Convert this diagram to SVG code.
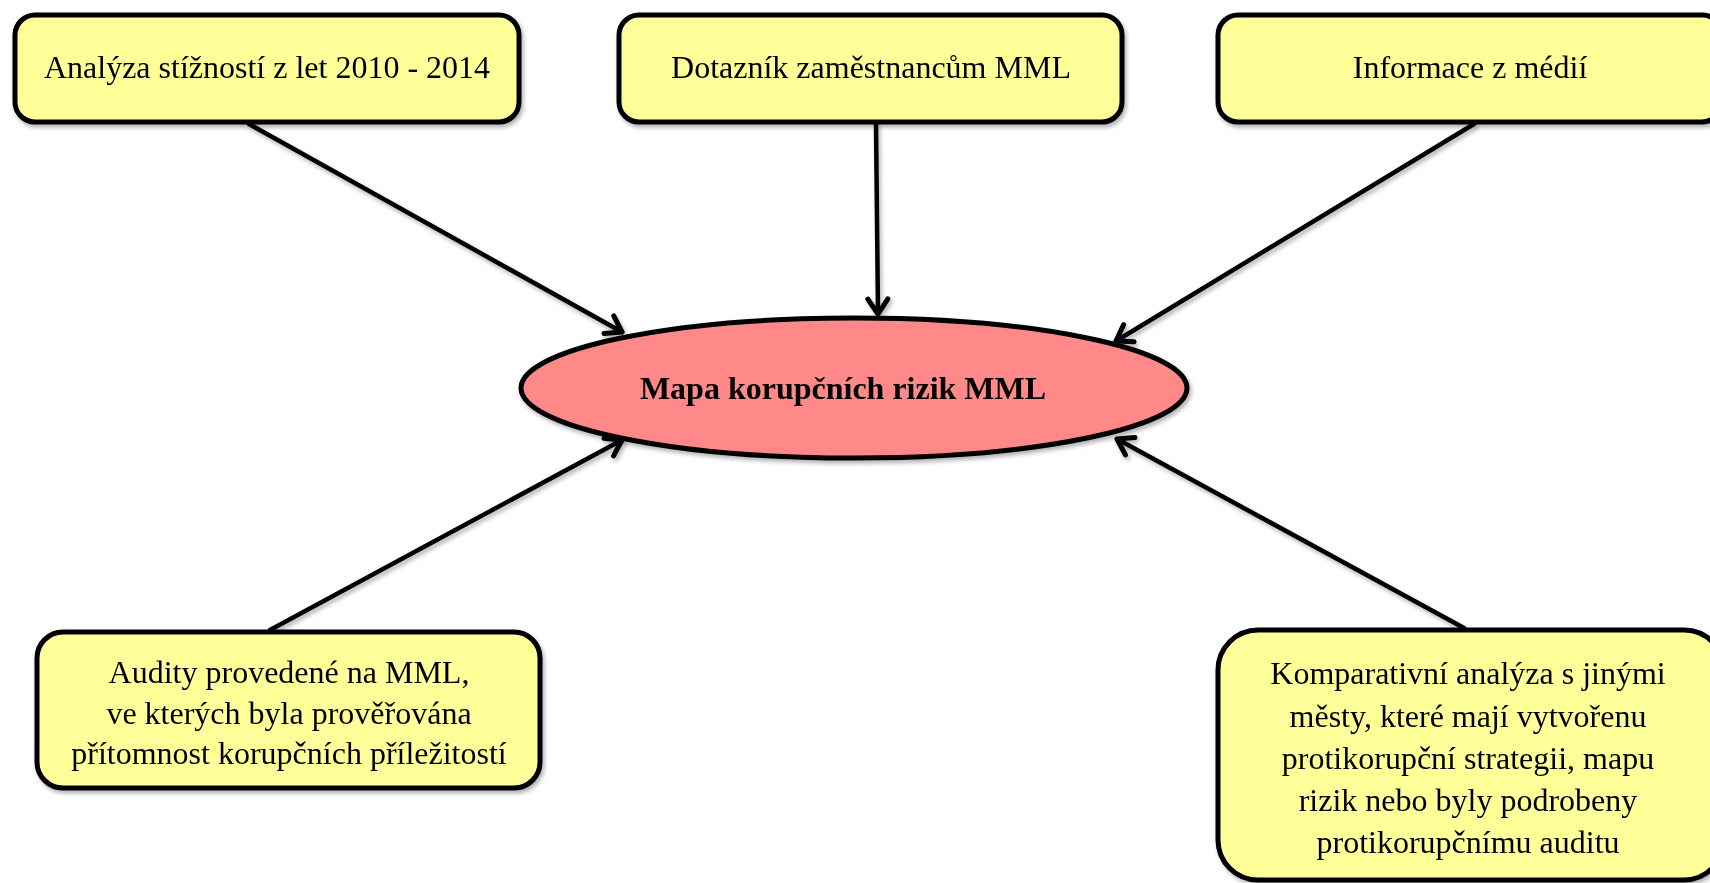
<svg xmlns="http://www.w3.org/2000/svg" width="1710" height="883" viewBox="0 0 1710 883">
<defs>
<style>
.box{fill:#FFFF99;stroke:#000;stroke-width:5}
.ell{fill:#FF8888;stroke:#000;stroke-width:5}
.t{font-family:"Liberation Serif","Times New Roman",serif;font-size:32px;fill:#000;text-anchor:middle}
.b{font-weight:bold}
.c{stroke:#000;stroke-width:4.5;fill:none;stroke-linecap:round;marker-end:url(#arr)}
</style>
<marker id="arr" markerUnits="userSpaceOnUse" viewBox="-20 -13 24 26" refX="0" refY="0" markerWidth="24" markerHeight="26" orient="auto">
<path d="M-15,-10 L0,0 L-15,10" fill="none" stroke="#000" stroke-width="5" stroke-linecap="round" stroke-linejoin="round"/>
</marker>
<filter id="sh" x="-10%" y="-10%" width="120%" height="130%">
<feDropShadow dx="2" dy="3" stdDeviation="2" flood-color="#000" flood-opacity="0.3"/>
</filter>
</defs>
<g id="connectors" filter="url(#sh)">
<line class="c" x1="249" y1="124" x2="622" y2="332"/>
<line class="c" x1="876" y1="124" x2="878" y2="314"/>
<line class="c" x1="1474" y1="124" x2="1116" y2="341"/>
<line class="c" x1="270" y1="630" x2="622" y2="440"/>
<line class="c" x1="1464" y1="628" x2="1117" y2="439"/>
</g>
<g id="center" filter="url(#sh)">
<ellipse class="ell" cx="854" cy="388" rx="333" ry="70"/>
<text class="t b" x="843" y="399">Mapa korupčních rizik MML</text>
</g>
<g id="n1" filter="url(#sh)">
<rect class="box" x="15" y="15" width="504" height="107" rx="20"/>
<text class="t" x="267" y="78">Analýza stížností z let 2010 - 2014</text>
</g>
<g id="n2" filter="url(#sh)">
<rect class="box" x="619" y="15" width="503" height="107" rx="20"/>
<text class="t" x="871" y="78">Dotazník zaměstnancům MML</text>
</g>
<g id="n3" filter="url(#sh)">
<rect class="box" x="1218" y="15" width="504" height="107" rx="20"/>
<text class="t" x="1470" y="78">Informace z médií</text>
</g>
<g id="n4" filter="url(#sh)">
<rect class="box" x="37" y="632" width="503" height="156" rx="26"/>
<text class="t" x="289" y="683">Audity provedené na MML,</text>
<text class="t" x="289" y="724">ve kterých byla prověřována</text>
<text class="t" x="289" y="764">přítomnost korupčních příležitostí</text>
</g>
<g id="n5" filter="url(#sh)">
<rect class="box" x="1218" y="630" width="506" height="250" rx="40"/>
<text class="t" x="1468" y="684">Komparativní analýza s jinými</text>
<text class="t" x="1468" y="727">městy, které mají vytvořenu</text>
<text class="t" x="1468" y="769">protikorupční strategii, mapu</text>
<text class="t" x="1468" y="811">rizik nebo byly podrobeny</text>
<text class="t" x="1468" y="853">protikorupčnímu auditu</text>
</g>
</svg>
